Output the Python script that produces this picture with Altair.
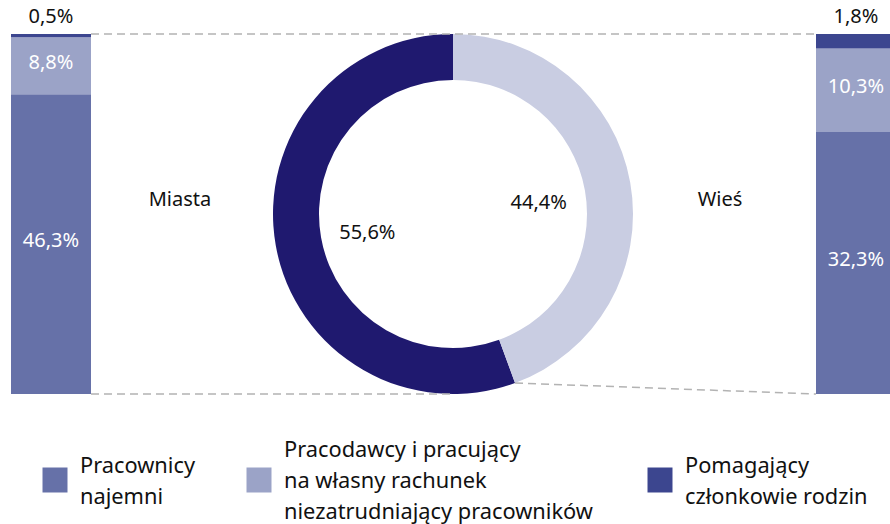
import math
import altair as alt
import pandas as pd

# ---- data ----
areas = ["Miasta", "Wieś"]
area_share = [55.6, 44.4]
categories = [
    "Pracownicy najemni",
    "Pracodawcy i pracujący na własny rachunek niezatrudniający pracowników",
    "Pomagający członkowie rodzin",
]
miasta_values = [46.3, 8.8, 0.5]
wies_values = [32.3, 10.3, 1.8]
legend_lines = [
    ["Pracownicy", "najemni"],
    ["Pracodawcy i pracujący", "na własny rachunek", "niezatrudniający pracowników"],
    ["Pomagający", "członkowie rodzin"],
]

# ---- style / layout ----
FONT = "Noto Sans"
FS = 20
LEG_FS = 21.8
cat_colors = ["#6671a8", "#9ba3c7", "#3c468f"]
donut_colors = ["#1f196f", "#c9cde2"]
W, H = 890, 524
cx, cy, R, r_in = 453, 214, 180, 134
bar_w = 80
bar_centers = [51, 856]
area_label_x = [180, 720]
legend_x = [55, 259, 660]
legend_y = 480
legend_text_y = 481
LH = 31


def fmt(v):
    return f"{v:.1f}".replace(".", ",") + "%"


rows = []
for area, vals in zip(areas, [miasta_values, wies_values]):
    for i, (c, v) in enumerate(zip(categories, vals)):
        rows.append(dict(area=area, cat=c, ord=i, value=v, lab=fmt(v)))
bar_df = pd.DataFrame(rows)

donut_df = pd.DataFrame(
    dict(area=areas, share=area_share, ord=[1, 0], lab=[fmt(v) for v in area_share])
)

# connectors derived from layout + share of the second slice
ang = area_share[1] / 100 * 2 * math.pi
bx, by = cx + R * math.sin(ang), cy - R * math.cos(ang)
left_edge = bar_centers[0] + bar_w / 2
right_edge = bar_centers[1] - bar_w / 2
conn_df = pd.DataFrame(
    [
        dict(x=left_edge, y=cy - R, x2=right_edge, y2=cy - R),
        dict(x=left_edge, y=cy + R, x2=cx, y2=cy + R),
        dict(x=bx, y=by, x2=right_edge, y2=cy + R),
    ]
)

leg_df = pd.DataFrame(
    dict(
        cat=categories,
        x=legend_x,
        ty=[legend_text_y - (len(l) - 1) * LH / 2 for l in legend_lines],
        txt=["\n".join(l) for l in legend_lines],
    )
)

yscale = alt.Scale(domain=[0, 1], range=[cy + R, cy - R])
xscale = alt.Scale(type="point", domain=areas, range=bar_centers, padding=0)

stacked = alt.Chart(bar_df).transform_stack(
    stack="value",
    groupby=["area"],
    as_=["y0", "y1"],
    offset="normalize",
    sort=[alt.SortField("ord", order="ascending")],
).transform_calculate(mid="(datum.y0 + datum.y1) / 2")

bars = stacked.mark_bar(width=bar_w).encode(
    x=alt.X("area:N", scale=xscale, axis=None),
    y=alt.Y("y0:Q", scale=yscale, axis=None),
    y2="y1:Q",
    color=alt.Color(
        "cat:N", scale=alt.Scale(domain=categories, range=cat_colors), legend=None
    ),
)

in_labels = stacked.transform_filter("datum.value >= 5").mark_text(
    font=FONT, fontSize=FS, color="white", baseline="middle", dy=-3
).encode(
    x=alt.X("area:N", scale=xscale, axis=None),
    y=alt.Y("mid:Q", scale=yscale, axis=None),
    text="lab:N",
)

out_labels = stacked.transform_filter("datum.value < 5").mark_text(
    font=FONT, fontSize=FS, color="#111111", baseline="middle", dy=-17
).encode(
    x=alt.X("area:N", scale=xscale, axis=None),
    y=alt.Y("y1:Q", scale=yscale, axis=None),
    text="lab:N",
)

connectors = alt.Chart(conn_df).mark_rule(
    color="#b3b3b3", strokeWidth=1.5, strokeDash=[8, 5]
).encode(
    x=alt.X("x:Q", scale=None),
    y=alt.Y("y:Q", scale=None),
    x2="x2:Q",
    y2="y2:Q",
)

donut_base = alt.Chart(donut_df).encode(
    theta=alt.Theta("share:Q", stack=True),
    order=alt.Order("ord:Q"),
)

donut = donut_base.mark_arc(outerRadius=R, innerRadius=r_in).encode(
    color=alt.Color(
        "area:N", scale=alt.Scale(domain=areas, range=donut_colors), legend=None
    ),
    x=alt.value(cx),
    y=alt.value(cy),
)

donut_labels = donut_base.mark_text(
    radius=87, font=FONT, fontSize=FS, color="#111111", dy=4
).encode(text="lab:N", x=alt.value(cx), y=alt.value(cy))

area_labels = alt.Chart(donut_df).mark_text(
    font=FONT, fontSize=FS, color="#111111", baseline="middle"
).encode(
    x=alt.X(
        "area:N",
        scale=alt.Scale(type="point", domain=areas, range=area_label_x, padding=0),
        axis=None,
    ),
    y=alt.value(200),
    text="area:N",
)

legend_sq = alt.Chart(leg_df).mark_square(size=625, opacity=1).encode(
    x=alt.X("x:Q", scale=None),
    y=alt.value(legend_y),
    color=alt.Color(
        "cat:N", scale=alt.Scale(domain=categories, range=cat_colors), legend=None
    ),
)

legend_txt = alt.Chart(leg_df).mark_text(
    font=FONT,
    fontSize=LEG_FS,
    color="#111111",
    align="left",
    baseline="middle",
    lineBreak="\n",
    lineHeight=LH,
    dx=25,
).encode(
    x=alt.X("x:Q", scale=None),
    y=alt.Y("ty:Q", scale=None),
    text="txt:N",
)

chart = (
    alt.layer(
        bars,
        in_labels,
        out_labels,
        donut,
        connectors,
        donut_labels,
        area_labels,
        legend_sq,
        legend_txt,
    )
    .resolve_scale(x="independent", y="independent", color="independent", theta="independent")
    .properties(width=W, height=H, padding=0, autosize=alt.AutoSizeParams(type="none"))
    .configure_view(stroke=None)
)

chart.save("out.html", embed_options={"renderer": "svg", "actions": False})
